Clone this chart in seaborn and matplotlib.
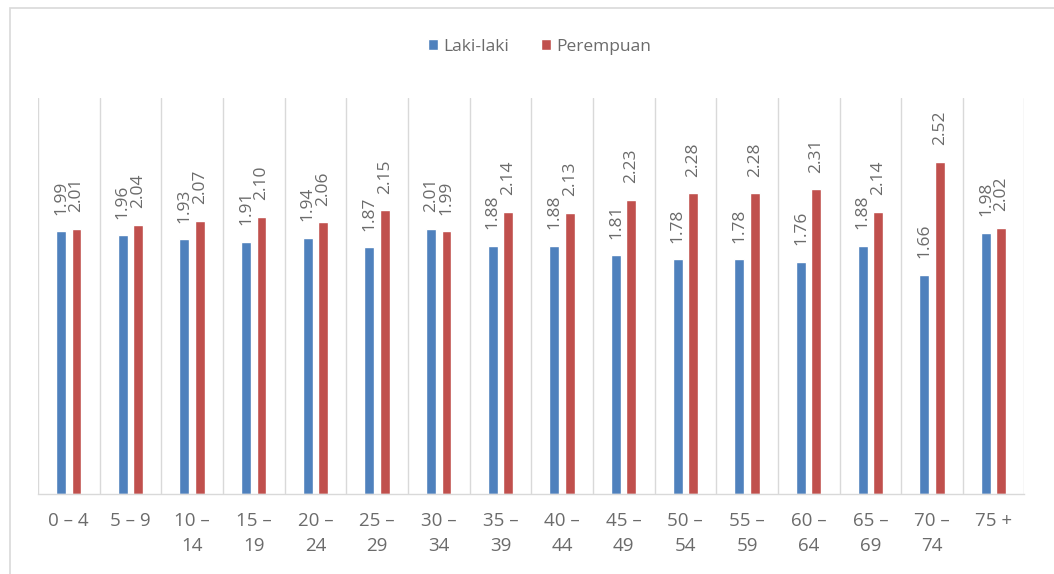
import matplotlib
matplotlib.use("Agg")
import matplotlib.pyplot as plt
from matplotlib.patches import Rectangle
import seaborn as sns
import pandas as pd

# Age groups and sex ratio values per group
age_groups = ["0 – 4", "5 – 9", "10 –\n14", "15 –\n19", "20 –\n24", "25 –\n29",
              "30 –\n34", "35 –\n39", "40 –\n44", "45 –\n49", "50 –\n54", "55 –\n59",
              "60 –\n64", "65 –\n69", "70 –\n74", "75 +"]
laki_laki = [1.99, 1.96, 1.93, 1.91, 1.94, 1.87, 2.01, 1.88, 1.88, 1.81, 1.78, 1.78,
             1.76, 1.88, 1.66, 1.98]
perempuan = [2.01, 2.04, 2.07, 2.10, 2.06, 2.15, 1.99, 2.14, 2.13, 2.23, 2.28, 2.28,
             2.31, 2.14, 2.52, 2.02]
series_names = ["Laki-laki", "Perempuan"]

df = pd.DataFrame({
    "kelompok": age_groups * 2,
    "nilai": laki_laki + perempuan,
    "jenis": [series_names[0]] * len(age_groups) + [series_names[1]] * len(age_groups),
})

sns.set_theme(style="white")
plt.rcParams["font.family"] = ["Open Sans", "DejaVu Sans"]

fig = plt.figure(figsize=(10.54, 5.74), dpi=100)
ax = fig.add_axes([0.036, 0.139, 0.936, 0.690])

palette = {"Laki-laki": "#4F81BD", "Perempuan": "#C0504D"}
sns.barplot(data=df, x="kelompok", y="nilai", hue="jenis", order=age_groups,
            hue_order=series_names, palette=palette, width=0.5, gap=0.36,
            saturation=1, ax=ax, legend=True, errorbar=None)

for cont in ax.containers:
    ax.bar_label(cont, fmt="%.2f", rotation=90, padding=12, fontsize=12.5,
                 color="#6b6b6b")

ax.set_ylim(0, 3)
ax.set_xlim(-0.5, len(age_groups) - 0.5)
ax.set_xlabel("")
ax.set_ylabel("")
ax.set_yticks([])
ax.set_xticks(range(len(age_groups)))
ax.set_xticklabels(age_groups, fontsize=13.5, color="#6b6b6b", linespacing=1.45)
ax.tick_params(axis="x", length=0, pad=13)

# Vertical separators between age groups
ax.set_xticks([i + 0.5 for i in range(-1, len(age_groups))], minor=True)
ax.tick_params(axis="x", which="minor", length=0)
ax.grid(False)
ax.grid(True, axis="x", which="minor", color="#d9d9d9", linewidth=1)

for side in ["top", "right", "left"]:
    ax.spines[side].set_visible(False)
ax.spines["bottom"].set_color("#d9d9d9")
ax.spines["bottom"].set_linewidth(1)

leg = ax.legend(loc="center", bbox_to_anchor=(0.512, 0.918),
                bbox_transform=fig.transFigure, ncol=2, frameon=False,
                fontsize=12.5, handlelength=0.6, handleheight=0.6,
                handletextpad=0.3, columnspacing=1.8)
for t in leg.get_texts():
    t.set_color("#6b6b6b")

# Chart frame
fig.patches.append(Rectangle((10 / 1054, -0.05), 1.0, 1.05 - 8 / 574,
                             transform=fig.transFigure, fill=False,
                             edgecolor="#d9d9d9", linewidth=1.2))

fig.savefig("out.png", dpi=100, facecolor="white")
